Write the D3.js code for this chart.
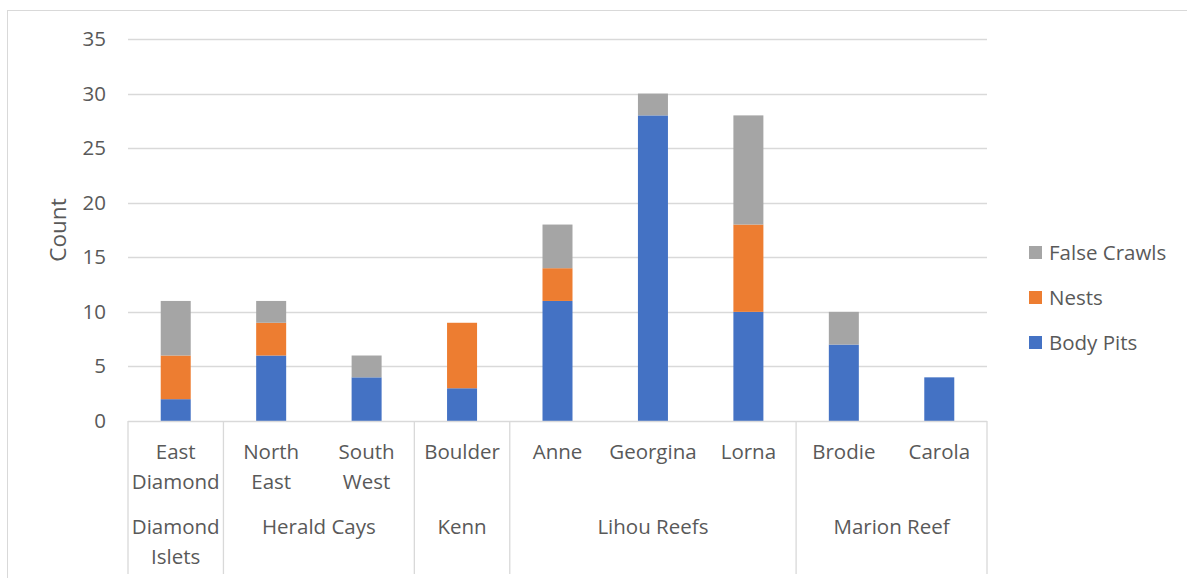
<!DOCTYPE html>
<html><head><meta charset="utf-8">
<script src="https://cdn.jsdelivr.net/npm/d3@7"></script>
<style>html,body{margin:0;padding:0;background:#fff;}</style>
</head><body>
<svg id="c" width="1187" height="578"></svg>
<script>
const categories = ["East\nDiamond","North\nEast","South\nWest","Boulder","Anne","Georgina","Lorna","Brodie","Carola"];
const groups = [
  {name:"Diamond\nIslets", count:1},
  {name:"Herald Cays", count:2},
  {name:"Kenn", count:1},
  {name:"Lihou Reefs", count:3},
  {name:"Marion Reef", count:2}
];
const seriesNames = ["Body Pits","Nests","False Crawls"];
const bodyPits   = [2,6,4,3,11,28,10,7,4];
const nests      = [4,3,0,6,3,0,8,0,0];
const falseCrawls= [5,2,2,0,4,2,10,3,0];
const yTicks = [0,5,10,15,20,25,30,35];
const colors = ["#4472C4","#ED7D31","#A5A5A5"];

const svg = d3.select("#c");
const font = "'Open Sans', sans-serif";
const fs = 20.5;
const textColor = "#595959";
const L = 128, R = 987, T = 39, B = 421;

// outer border
svg.append("rect").attr("x",7.5).attr("y",10.5).attr("width",1200).attr("height",600)
  .attr("fill","none").attr("stroke","#D9D9D9").attr("stroke-width",1);

const x = d3.scaleBand().domain(d3.range(categories.length)).range([L,R]).paddingInner(0).paddingOuter(0);
const y = d3.scaleLinear().domain([0,35]).range([B,T]);

// gridlines
svg.append("g").selectAll("line").data(yTicks.filter(d=>d>0)).join("line")
  .attr("x1",L).attr("x2",R).attr("y1",d=>Math.round(y(d))+0.5).attr("y2",d=>Math.round(y(d))+0.5)
  .attr("stroke","#D9D9D9").attr("stroke-width",1.3);

// y axis labels
const yAxis = d3.axisLeft(y).tickValues(yTicks).tickSize(0).tickPadding(22);
const ya = svg.append("g").attr("transform",`translate(${L},0)`).call(yAxis);
ya.select(".domain").remove();
ya.selectAll("text").attr("font-family",font).attr("font-size",fs).attr("fill",textColor);

// stacked bars
const data = categories.map((c,i)=>({i, "Body Pits":bodyPits[i], "Nests":nests[i], "False Crawls":falseCrawls[i]}));
const stack = d3.stack().keys(seriesNames)(data);
const bw = 30;
svg.append("g").selectAll("g").data(stack).join("g").attr("fill",(d,i)=>colors[i])
  .selectAll("rect").data(d=>d.filter(s=>s[1]-s[0]>0)).join("rect")
  .attr("x",d=>x(d.data.i)+x.bandwidth()/2-bw/2).attr("width",bw)
  .attr("y",d=>y(d[1])).attr("height",d=>y(d[0])-y(d[1]));

// category axis baseline
svg.append("line").attr("x1",L).attr("x2",R).attr("y1",B+0.5).attr("y2",B+0.5)
  .attr("stroke","#D9D9D9").attr("stroke-width",1.3);

// group separators
let idx = 0;
const bounds = [0];
groups.forEach(g=>{ idx += g.count; bounds.push(idx); });
svg.append("g").selectAll("line").data(bounds).join("line")
  .attr("x1",b=>b<categories.length? x(b): R).attr("x2",b=>b<categories.length? x(b): R)
  .attr("y1",B).attr("y2",574).attr("stroke","#D9D9D9").attr("stroke-width",1.3);

// category labels
const cat = svg.append("g").selectAll("text").data(categories).join("text")
  .attr("x",(d,i)=>x(i)+x.bandwidth()/2).attr("y",459)
  .attr("text-anchor","middle").attr("font-family",font).attr("font-size",fs).attr("fill",textColor);
cat.each(function(d){
  const t=d3.select(this);
  d.split("\n").forEach((s,k)=>t.append("tspan").attr("x",t.attr("x")).attr("dy",k?30:0).text(s));
});

// group labels
let start=0;
groups.forEach(g=>{
  const cx = (x(start) + (start+g.count<categories.length ? x(start+g.count) : R))/2;
  const t = svg.append("text").attr("x",cx).attr("y",534).attr("text-anchor","middle")
    .attr("font-family",font).attr("font-size",fs).attr("fill",textColor);
  g.name.split("\n").forEach((s,k)=>t.append("tspan").attr("x",cx).attr("dy",k?30:0).text(s));
  start += g.count;
});

// y title
svg.append("text").attr("transform","translate(66,230) rotate(-90)").attr("text-anchor","middle")
  .attr("font-family",font).attr("font-size",22.5).attr("fill",textColor).text("Count");

// legend
const legendOrder = [2,1,0];
const lg = svg.append("g").selectAll("g").data(legendOrder).join("g")
  .attr("transform",(d,k)=>`translate(1029,${246+k*45})`);
lg.append("rect").attr("width",13).attr("height",13).attr("fill",d=>colors[d]);
lg.append("text").attr("x",20).attr("y",13.5).attr("font-family",font).attr("font-size",fs)
  .attr("fill",textColor).text(d=>seriesNames[d]);
</script>
</body></html>
